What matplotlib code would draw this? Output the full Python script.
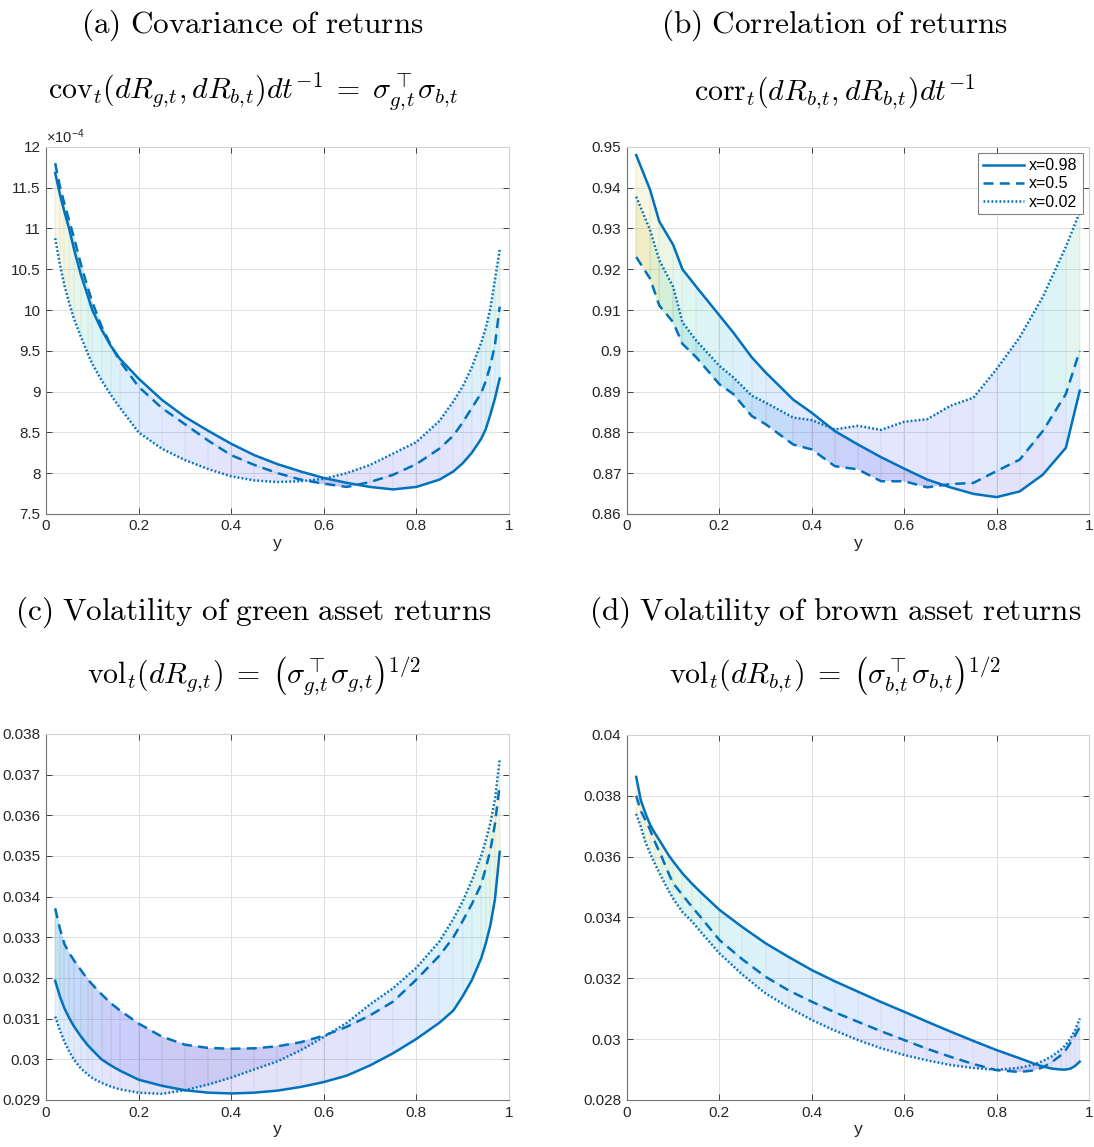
import matplotlib
matplotlib.use("Agg")
import numpy as np
import matplotlib.pyplot as plt
from matplotlib.colors import LinearSegmentedColormap, Normalize
from matplotlib.ticker import FuncFormatter

plt.rcParams['font.family'] = ['Liberation Sans', 'DejaVu Sans']
plt.rcParams['mathtext.fontset'] = 'cm'

# shared y grid for panels (a), (c), (d)
y_grid = [0.02, 0.03, 0.04, 0.05, 0.06, 0.075, 0.09, 0.1, 0.12, 0.14, 0.16, 0.2, 0.25, 0.3, 0.35, 0.4, 0.45, 0.5,
          0.55, 0.6, 0.65, 0.7, 0.75, 0.8, 0.85, 0.88, 0.9, 0.92, 0.94, 0.95, 0.96, 0.97, 0.98]

# (a) covariance of returns, in units of 1e-4
cov_x098 = [11.68, 11.42, 11.2, 11.0, 10.76, 10.44, 10.18, 10.0, 9.76, 9.56, 9.4, 9.16, 8.9, 8.69, 8.52, 8.36, 8.22,
            8.11, 8.02, 7.94, 7.88, 7.83, 7.80, 7.83, 7.92, 8.02, 8.12, 8.25, 8.42, 8.54, 8.72, 8.92, 9.16]
cov_x05 = [11.8, 11.52, 11.3, 11.1, 10.9, 10.57, 10.28, 10.1, 9.8, 9.57, 9.37, 9.06, 8.8, 8.6, 8.4, 8.22, 8.1, 8.0,
           7.92, 7.87, 7.83, 7.89, 7.98, 8.11, 8.3, 8.46, 8.62, 8.8, 8.98, 9.13, 9.32, 9.58, 10.04]
cov_x002 = [10.88, 10.56, 10.3, 10.09, 9.9, 9.68, 9.47, 9.34, 9.14, 8.96, 8.8, 8.5, 8.3, 8.16, 8.05, 7.96, 7.91, 7.89,
            7.9, 7.93, 8.0, 8.1, 8.24, 8.38, 8.64, 8.88, 9.06, 9.3, 9.6, 9.78, 10.02, 10.38, 10.74]

# (b) correlation of returns
corr_y = [0.02, 0.05, 0.07, 0.1, 0.12, 0.15, 0.2, 0.23, 0.27, 0.3, 0.36, 0.4, 0.45, 0.5, 0.55, 0.6, 0.65, 0.7,
          0.75, 0.8, 0.85, 0.9, 0.95, 0.98]
corr_x098 = [0.948, 0.9395, 0.9317, 0.926, 0.92, 0.9157, 0.9087, 0.9045, 0.8984, 0.8947, 0.888, 0.8848, 0.8803,
             0.877, 0.8739, 0.8711, 0.8684, 0.8665, 0.8649, 0.8641, 0.8655, 0.8696, 0.8762, 0.8902]
corr_x05 = [0.923, 0.9177, 0.9111, 0.907, 0.9017, 0.8984, 0.8918, 0.8894, 0.884, 0.882, 0.877, 0.8758, 0.8717,
            0.8709, 0.868, 0.868, 0.8665, 0.8673, 0.8676, 0.8705, 0.8733, 0.8803, 0.8894, 0.9]
corr_x002 = [0.9378, 0.9296, 0.9222, 0.9157, 0.907, 0.9025, 0.8963, 0.8935, 0.889, 0.8873, 0.8836, 0.883, 0.8807,
             0.8816, 0.8806, 0.8826, 0.8832, 0.8865, 0.8885, 0.8955, 0.9033, 0.9132, 0.9255, 0.934]

# (c) volatility of green asset returns
volg_x098 = [0.03193, 0.03155, 0.03125, 0.03102, 0.03082, 0.03057, 0.03035, 0.03023, 0.03, 0.02985, 0.02972,
             0.0295, 0.02935, 0.02924, 0.02918, 0.02916, 0.02918, 0.02923, 0.02932, 0.02944, 0.0296, 0.02985,
             0.03015, 0.0305, 0.0309, 0.0312, 0.03155, 0.03195, 0.03248, 0.03285, 0.0333, 0.03395, 0.0351]
volg_x05 = [0.03371, 0.03322, 0.03283, 0.03262, 0.03244, 0.0322, 0.03197, 0.03184, 0.0316, 0.03138, 0.0312,
            0.03088, 0.03056, 0.03036, 0.03028, 0.03026, 0.03027, 0.03032, 0.03042, 0.03058, 0.0308, 0.03108,
            0.03142, 0.03196, 0.03255, 0.033, 0.0334, 0.03382, 0.0343, 0.0347, 0.03515, 0.0358, 0.03675]
volg_x002 = [0.03105, 0.03072, 0.03043, 0.0302, 0.03, 0.02978, 0.02963, 0.02954, 0.02942, 0.02933, 0.02926,
             0.02918, 0.02915, 0.02924, 0.02938, 0.02955, 0.02975, 0.02995, 0.03022, 0.03055, 0.0309, 0.03135,
             0.03175, 0.03225, 0.0329, 0.03345, 0.03388, 0.0344, 0.035, 0.03538, 0.03582, 0.0364, 0.03736]

# (d) volatility of brown asset returns
volb_x098 = [0.03862, 0.03785, 0.03742, 0.03705, 0.03678, 0.03642, 0.03605, 0.03584, 0.03545, 0.03512, 0.03482,
             0.03425, 0.03368, 0.03315, 0.0327, 0.03227, 0.0319, 0.03156, 0.03122, 0.0309, 0.03057, 0.03025,
             0.02994, 0.02964, 0.02937, 0.0292, 0.0291, 0.02903, 0.029, 0.029, 0.02903, 0.02912, 0.02926]
volb_x05 = [0.038, 0.0375, 0.0372, 0.03688, 0.0365, 0.036, 0.03545, 0.03512, 0.03474, 0.03436, 0.034, 0.03326,
            0.03262, 0.03205, 0.0316, 0.03123, 0.03088, 0.03057, 0.03026, 0.02997, 0.02968, 0.02942, 0.02918,
            0.02898, 0.02892, 0.02897, 0.02907, 0.02925, 0.02948, 0.02965, 0.02988, 0.03012, 0.0304]
volb_x002 = [0.0374, 0.03698, 0.03648, 0.03611, 0.03578, 0.03532, 0.03488, 0.03462, 0.03418, 0.03388, 0.03352,
             0.03282, 0.03212, 0.0315, 0.03104, 0.03063, 0.03028, 0.02997, 0.0297, 0.02948, 0.0293, 0.02915,
             0.02905, 0.02899, 0.02906, 0.02916, 0.02928, 0.02944, 0.02966, 0.02982, 0.03002, 0.0303, 0.03068]

legend_labels = ['x=0.98', 'x=0.5', 'x=0.02']

parula = LinearSegmentedColormap.from_list('parula', [
    (0.2422, 0.1504, 0.6603), (0.2810, 0.3228, 0.9579), (0.1786, 0.5289, 0.9682),
    (0.0689, 0.6948, 0.8394), (0.2161, 0.7843, 0.5923), (0.6720, 0.7793, 0.2227),
    (0.9970, 0.7659, 0.2199), (0.9763, 0.9831, 0.0538)])

BLUE = '#0072BD'


def fmt(v, pos):
    return '%g' % round(v, 6)


def draw_panel(ax, y, s098, s05, s002, ylim, yticks, legend=False):
    # shaded surface spanning the three x-slices, coloured by value
    X = np.array([y, y, y])
    Z = np.array([s002, s05, s098])
    C = (Z[:-1, :-1] + Z[1:, :-1] + Z[:-1, 1:] + Z[1:, 1:]) / 4
    ax.pcolormesh(X, Z, C, shading='flat', cmap=parula, alpha=0.15, antialiased=False, edgecolors='none',
                  norm=Normalize(ylim[0], ylim[1]), zorder=1)
    for yi, a, b, c in zip(y, s002, s05, s098):
        ax.plot([yi, yi, yi], [a, b, c], color='0.55', lw=0.35, alpha=0.3, zorder=1)
    ax.plot(y, s098, '-', color=BLUE, lw=1.8, label=legend_labels[0], zorder=3)
    ax.plot(y, s05, '--', color=BLUE, lw=1.8, dashes=(4, 2.5), label=legend_labels[1], zorder=3)
    ax.plot(y, s002, ':', color=BLUE, lw=1.8, dashes=(0.7, 0.9), label=legend_labels[2], zorder=3)
    ax.set_xlim(0, 1)
    ax.set_ylim(*ylim)
    ax.set_xticks([0, 0.2, 0.4, 0.6, 0.8, 1])
    ax.set_yticks(yticks)
    ax.xaxis.set_major_formatter(FuncFormatter(fmt))
    ax.yaxis.set_major_formatter(FuncFormatter(fmt))
    ax.grid(True, color='0.87', lw=0.7)
    ax.set_axisbelow(True)
    ax.tick_params(direction='in', length=4, width=0.6, labelsize=11, colors='0.15', top=True, right=True,
                   pad=4)
    for side in ['left', 'bottom']:
        ax.spines[side].set_color('0.45')
        ax.spines[side].set_linewidth(0.8)
    for side in ['top', 'right']:
        ax.spines[side].set_color('0.82')
        ax.spines[side].set_linewidth(0.8)
    ax.set_xlabel('y', fontsize=12.5, color='0.15', labelpad=2)
    if legend:
        leg = ax.legend(loc='upper right', fontsize=11.5, fancybox=False, framealpha=1, edgecolor='0.5',
                        handlelength=2.6, borderpad=0.3, labelspacing=0.2, handletextpad=0.3,
                        borderaxespad=0.4)
        leg.get_frame().set_linewidth(0.8)


fig = plt.figure(figsize=(10.94, 11.47), dpi=100)
ax_a = fig.add_axes([0.042, 0.552, 0.4232, 0.3199])
ax_b = fig.add_axes([0.5731, 0.552, 0.4223, 0.3199])
ax_c = fig.add_axes([0.042, 0.041, 0.4232, 0.3191])
ax_d = fig.add_axes([0.5731, 0.041, 0.4223, 0.3183])

draw_panel(ax_a, y_grid, cov_x098, cov_x05, cov_x002, (7.5, 12), [7.5, 8, 8.5, 9, 9.5, 10, 10.5, 11, 11.5, 12])
ax_a.text(0.0, 1.002, '\u00d710$^{\\mathregular{-4}}$', transform=ax_a.transAxes, fontsize=10.5, color='0.15',
          ha='left', va='bottom')
draw_panel(ax_b, corr_y, corr_x098, corr_x05, corr_x002, (0.86, 0.95),
           [0.86, 0.87, 0.88, 0.89, 0.9, 0.91, 0.92, 0.93, 0.94, 0.95], legend=True)
draw_panel(ax_c, y_grid, volg_x098, volg_x05, volg_x002, (0.029, 0.038),
           [0.029, 0.03, 0.031, 0.032, 0.033, 0.034, 0.035, 0.036, 0.037, 0.038])
draw_panel(ax_d, y_grid, volb_x098, volb_x05, volb_x002, (0.028, 0.04),
           [0.028, 0.03, 0.032, 0.034, 0.036, 0.038, 0.04])

tfs = 22.5
ffs = 21.5
fig.text(0.231, 0.978, r'$\mathrm{(a)\ Covariance\ of\ returns}$', fontsize=tfs, ha='center', va='center')
fig.text(0.231, 0.920,
         r'$\mathrm{cov}_t(dR_{g,\!t}, dR_{b,\!t})dt^{-1}\;=\;\sigma_{g,\!t}^{\top}\sigma_{b,\!t}$',
         fontsize=ffs, ha='center', va='center')
fig.text(0.763, 0.978, r'$\mathrm{(b)\ Correlation\ of\ returns}$', fontsize=tfs, ha='center', va='center')
fig.text(0.763, 0.920, r'$\mathrm{corr}_t(dR_{b,\!t}, dR_{b,\!t})dt^{-1}$', fontsize=ffs, ha='center',
         va='center')
fig.text(0.232, 0.4664, r'$\mathrm{(c)\ Volatility\ of\ green\ asset\ returns}$', fontsize=tfs, ha='center',
         va='center')
fig.text(0.232, 0.410,
         r'$\mathrm{vol}_t(dR_{g,\!t})\;=\;\left(\sigma_{g,\!t}^{\top}\sigma_{g,\!t}\right)^{1/2}$',
         fontsize=ffs, ha='center', va='center')
fig.text(0.763, 0.4664, r'$\mathrm{(d)\ Volatility\ of\ brown\ asset\ returns}$', fontsize=tfs, ha='center',
         va='center')
fig.text(0.763, 0.410,
         r'$\mathrm{vol}_t(dR_{b,\!t})\;=\;\left(\sigma_{b,\!t}^{\top}\sigma_{b,\!t}\right)^{1/2}$',
         fontsize=ffs, ha='center', va='center')

fig.savefig('out.png', dpi=100)
